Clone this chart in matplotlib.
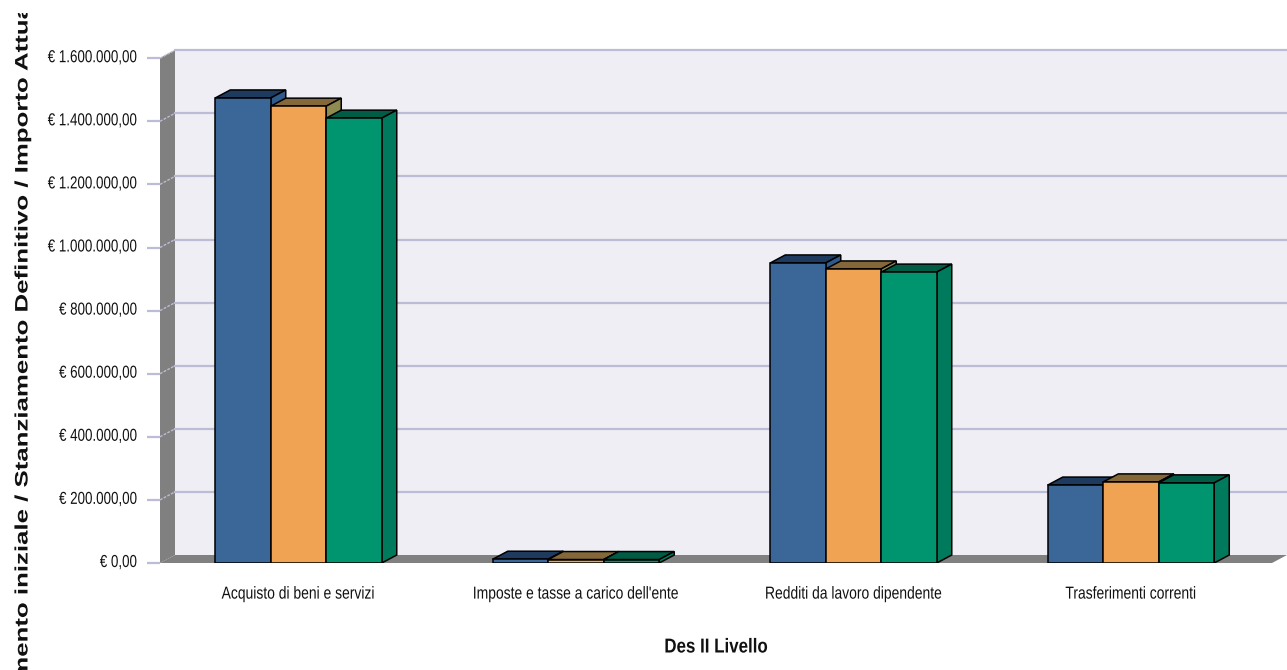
import matplotlib
matplotlib.use('Agg')
import matplotlib.pyplot as plt
from matplotlib.patches import Polygon
from matplotlib.patheffects import AbstractPathEffect
from matplotlib.transforms import Affine2D, Bbox

categories = ['Acquisto di beni e servizi', "Imposte e tasse a carico dell'ente",
              'Redditi da lavoro dipendente', 'Trasferimenti correnti']
stanz_iniziale = [1474000, 12000, 951000, 247000]
stanz_definitivo = [1448000, 11000, 932000, 257000]
importo_attuato = [1410000, 11000, 922000, 254000]

tick_values = [0, 200000, 400000, 600000, 800000, 1000000, 1200000, 1400000, 1600000]
tick_labels = ['€ 0,00', '€ 200.000,00', '€ 400.000,00', '€ 600.000,00', '€ 800.000,00',
               '€ 1.000.000,00', '€ 1.200.000,00', '€ 1.400.000,00', '€ 1.600.000,00']

W, H = 1287, 670
font = 'Liberation Sans'
ink = '#111111'


class Stretch(AbstractPathEffect):
    # squeezes or stretches a text around its own right edge or centre
    def __init__(self, sx=1.0, sy=1.0, pivot='center', shift_y=0):
        super().__init__()
        self.sx, self.sy, self.pivot, self.shift_y = sx, sy, pivot, shift_y

    def draw_path(self, renderer, gc, tpath, affine, rgbFace=None):
        box = tpath.get_extents(affine)
        px = box.x1 if self.pivot == 'right' else (box.x0 + box.x1) / 2
        py = (box.y0 + box.y1) / 2
        extra = (Affine2D().translate(-px, -py).scale(self.sx, self.sy)
                 .translate(px, py + self.shift_y))
        renderer.draw_path(gc, tpath, affine + extra, rgbFace)


# pixel layout of the front plane
left_px, right_px, base_px, top_px = 160, 1287, 563, 50
group_step = 277.5
first_center = 298.5
value_per_px = 200000 / 63.1

dx = 15 / group_step
dy = 8 * value_per_px
bar_w = 55.5 / group_step

fig = plt.figure(figsize=(W / 100, H / 100), dpi=100, facecolor='white')
ax = fig.add_axes([left_px / W, (H - base_px) / H, (right_px - left_px) / W, (base_px - top_px) / H])
ax.set_xlim((left_px - first_center) / group_step, (right_px - first_center) / group_step)
ax.set_ylim(0, (base_px - top_px) * value_per_px)
ax.patch.set_visible(False)
for s in ax.spines.values():
    s.set_visible(False)

x0, x1 = ax.get_xlim()
y1 = ax.get_ylim()[1]
wall = '#efeef5'
grey = '#808080'
grid = '#bcbcd6'

# back wall, left wall, floor
ax.add_patch(Polygon([(x0 + dx, dy), (x1, dy), (x1, y1), (x0 + dx, y1)], fc=wall, ec='none', zorder=0))
ax.add_patch(Polygon([(x0, 0), (x0 + dx, dy), (x0 + dx, y1), (x0, y1 - dy)], fc=grey, ec='none', zorder=1))
ax.add_patch(Polygon([(x0, 0), (x0 + dx, dy), (x1, dy), (x1 - dx, 0)], fc=grey, ec='none', zorder=1))

# grid lines on the wall, with the slanted part on the side wall
for v in tick_values[1:]:
    ax.plot([x0 + dx, x1], [v + dy, v + dy], color=grid, lw=1.6, zorder=1.5, clip_on=False)
    ax.plot([x0, x0 + dx], [v, v + dy], color=grid, lw=1.0, ls=(0, (2, 1)), zorder=1.5)

series = [
    (stanz_iniziale, '#3b6698', '#1f3a5f', '#2f5a8c'),
    (stanz_definitivo, '#f0a352', '#85683a', '#8e8a50'),
    (importo_attuato, '#00956f', '#005c45', '#007a5c'),
]

z = 3
for i in range(len(categories)):
    for j, (vals, front, top, side) in enumerate(series):
        xl = i + (j - 1.5) * bar_w
        xr = xl + bar_w
        v = vals[i]
        ax.add_patch(Polygon([(xl, v), (xl + dx, v + dy), (xr + dx, v + dy), (xr, v)],
                             fc=top, ec='black', lw=1.1, zorder=z))
        ax.add_patch(Polygon([(xr, 0), (xr + dx, dy), (xr + dx, v + dy), (xr, v)],
                             fc=side, ec='black', lw=1.1, zorder=z))
        ax.bar(xl, v, width=bar_w, align='edge', color=front, edgecolor='black', lw=1.1, zorder=z + 0.5)
        z += 1

ax.set_xticks(range(len(categories)))
ax.set_xticklabels(categories, fontsize=12.5, family=font, color=ink)
ax.tick_params(axis='x', length=0, pad=17)
for lab in ax.get_xticklabels():
    lab.set_path_effects([Stretch(sx=0.8)])

ax.set_yticks(tick_values)
ax.set_yticklabels(tick_labels, fontsize=12.5, family=font, color=ink)
ax.tick_params(axis='y', length=9.5, width=1.6, color=grid, pad=7)
for lab in ax.get_yticklabels():
    lab.set_path_effects([Stretch(sx=0.77, pivot='right', shift_y=2)])

xt = fig.text(716 / W, 1 - 647 / H, 'Des II Livello', ha='center', va='center',
              fontsize=14.5, fontweight='bold', family=font, color=ink)
xt.set_path_effects([Stretch(sx=0.84)])

# y title runs past the image and is cut at the top
yt = fig.text(23 / W, 1 - 376 / H, 'Stanziamento iniziale / Stanziamento Definitivo / Importo Attuato',
              rotation=90, ha='center', va='center', fontsize=13, fontweight='bold',
              family=font, color=ink)
yt.set_path_effects([Stretch(sy=1.43)])
yt.set_clip_box(Bbox([[0, 0], [W, H - 13]]))
yt.set_clip_on(True)

fig.savefig('out.png', dpi=100)
